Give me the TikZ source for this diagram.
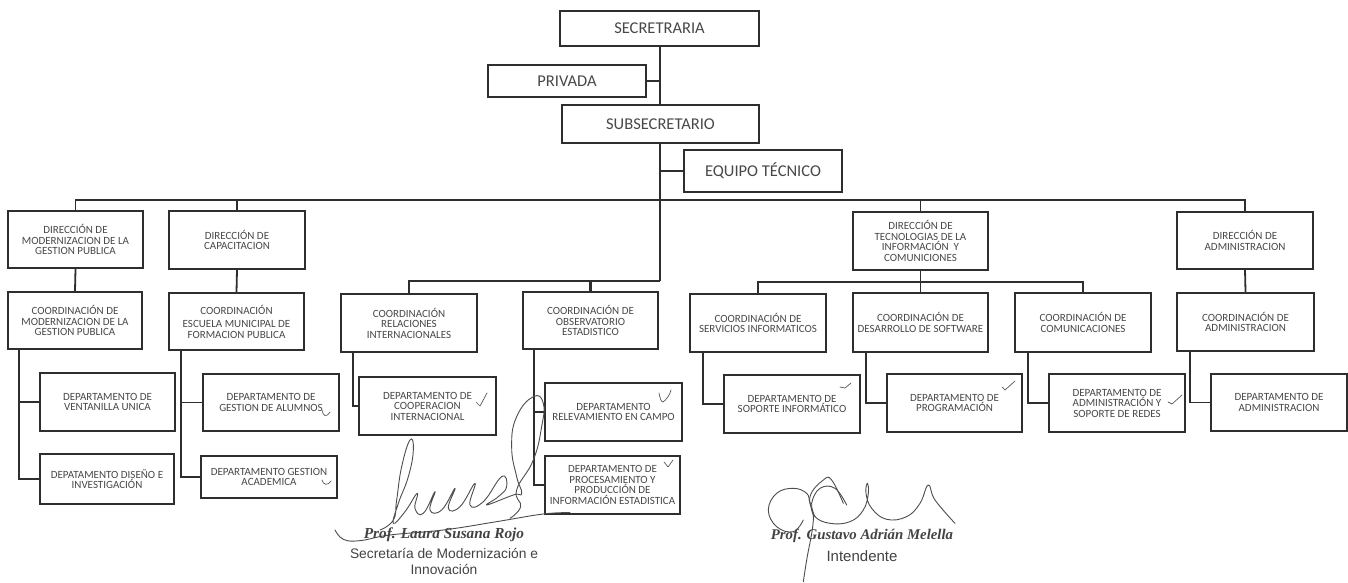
\documentclass[tikz,border=0pt]{standalone}
\usepackage{fontspec}
\setmainfont{Carlito}
\newfontfamily\signserif{Liberation Serif}
\newfontfamily\signsans{Liberation Sans}
\definecolor{ink}{HTML}{2E2E2E}
\definecolor{txt}{HTML}{484848}
\tikzset{
  orgbox/.style={draw=ink,line width=1.8pt,inner sep=0pt,align=center,text=txt,font=\fontsize{11}{10.5}\selectfont},
  topbox/.style={orgbox,font=\fontsize{16.5}{18}\selectfont},
  link/.style={draw=ink,line width=1.8pt},
  tick/.style={draw=ink!80,line width=.7pt,line cap=round,line join=round},
  pen/.style={draw=ink!85,line width=.9pt,line cap=round,line join=round},
  signname/.style={text=ink!90,font=\signserif\bfseries\itshape\fontsize{#1}{16}\selectfont},
  signrole/.style={text=ink!90,font=\signsans\fontsize{#1}{16}\selectfont,align=center}
}
\newcommand{\bx}[7][orgbox]{\node[#1,minimum width=#5-#3,minimum height=#6-#4] (#2) at ({(#3+#5)/2},{(#4+#6)/2}) {#7};}
\begin{document}
\begin{tikzpicture}[x=1pt,y=-1pt]
\useasboundingbox (0,0) rectangle (1348,583);
\fill[white] (0,0) rectangle (1348,583);
% top
\bx[topbox]{sec}{560}{11}{759}{46}{SECRETRARIA}
\bx[topbox]{pri}{488}{65}{646}{97}{PRIVADA}
\bx[topbox]{sub}{562}{105}{759}{143}{SUBSECRETARIO}
\bx[topbox]{eq}{684}{150}{842}{192}{EQUIPO TÉCNICO}
% directions
\bx{d1}{8}{211}{143}{268}{DIRECCIÓN DE\\MODERNIZACION DE LA\\GESTION PUBLICA}
\bx{d2}{169}{211}{305}{269}{DIRECCIÓN DE\\CAPACITACION}
\bx{d3}{853}{212}{988}{270}{DIRECCIÓN DE\\TECNOLOGIAS DE LA\\INFORMACIÓN~~Y\\COMUNICIONES}
\bx{d4}{1177}{212}{1313}{269}{DIRECCIÓN DE\\ADMINISTRACION}
% coordinations
\bx{c1}{8}{292}{142}{349}{COORDINACIÓN DE\\MODERNIZACION DE LA\\GESTION PUBLICA}
\bx{c2}{169}{293}{304}{350}{COORDINACIÓN\\[3pt]ESCUELA MUNICIPAL DE\\FORMACION PUBLICA}
\bx{c3}{341}{294}{477}{352}{COORDINACIÓN\\RELACIONES\\INTERNACIONALES}
\bx{c4}{523}{292}{658}{349}{COORDINACIÓN DE\\OBSERVATORIO\\ESTADISTICO}
\bx{c5}{690}{294}{826}{352}{COORDINACIÓN DE\\SERVICIOS INFORMATICOS}
\bx{c6}{853}{293}{988}{352}{COORDINACIÓN DE\\DESARROLLO DE SOFTWARE}
\bx{c7}{1015}{293}{1151}{352}{COORDINACIÓN DE\\COMUNICACIONES}
\bx{c8}{1177}{293}{1314}{351}{COORDINACIÓN DE\\ADMINISTRACION}
% departments
\bx{e1}{40}{373}{175}{431}{DEPARTAMENTO DE\\VENTANILLA UNICA}
\bx{e2}{40}{454}{174}{504}{DEPATAMENTO DISEÑO E\\INVESTIGACIÓN}
\bx{e3}{203}{374}{339}{431}{DEPARTAMENTO DE\\GESTION DE ALUMNOS}
\bx{e4}{201}{456}{337}{498}{DEPARTAMENTO GESTION\\ACADEMICA}
\bx{e5}{359}{377}{496}{435}{DEPARTAMENTO DE\\COOPERACION\\INTERNACIONAL}
\bx{e6}{545}{383}{682}{441}{DEPARTAMENTO\\RELEVAMIENTO EN CAMPO}
\bx{e7}{545}{456}{680}{514}{DEPARTAMENTO DE\\PROCESAMIENTO Y\\PRODUCCIÓN DE\\INFORMACIÓN ESTADISTICA}
\bx{e8}{724}{375}{860}{433}{DEPARTAMENTO DE\\SOPORTE INFORMÁTICO}
\bx{e9}{887}{374}{1022}{432}{DEPARTAMENTO DE\\PROGRAMACIÓN}
\bx{e10}{1049}{374}{1185}{432}{DEPARTAMENTO DE\\ADMINISTRACIÓN Y\\SOPORTE DE REDES}
\bx{e11}{1211}{374}{1347}{431}{DEPARTAMENTO DE\\ADMINISTRACION}
% junctions
\coordinate (bus) at (660,200);
\coordinate (busA) at (660,281);
\coordinate (busB) at (920,282);
% connectors
\draw[link] (sec.south -| bus) -- (sub.north -| bus);
\draw[link] (pri.east) -- (pri.east -| bus);
\draw[link] (sub.south -| bus) -- (busA);
\draw[link] (eq.west) -- (eq.west -| bus);
\draw[link] (d1.north) |- (bus);
\draw[link] (d2.north) -- (d2.north |- bus);
\draw[link] (d3.north) -- (d3.north |- bus);
\draw[link] (bus) -| (d4.north);
\draw[link] (d1.south) -- (c1.north);
\draw[link] (d2.south) -- (c2.north);
\draw[link] (d4.south) -- (c8.north);
\draw[link] (d3.south) -- (c6.north);
\draw[link] (c3.north) |- (busA);
\draw[link,line width=2.6pt] (c4.north) |- (busA);
\draw[link] (c5.north) |- (busB);
\draw[link] (busB) -| (c7.north);
\draw[link] (c1.south west) ++(12,0) coordinate (s1) |- (e1.west);
\draw[link] (s1) |- (e2.west);
\draw[link] (c2.south west) ++(13,0) coordinate (s2) |- (e3.west);
\draw[link] (s2) |- (e4.west);
\draw[link] (c3.south west) ++(13,0) |- (e5.west);
\draw[link] (c4.south west) ++(12,0) coordinate (s4) |- (e6.west);
\draw[link] (s4) |- (e7.west);
\draw[link] (c5.south west) ++(14,0) |- (e8.west);
\draw[link] (c6.south west) ++(14,0) |- (e9.west);
\draw[link] (c7.south west) ++(14,0) |- (e10.west);
\draw[link] (c8.south west) ++(14,0) |- (e11.west);
% check marks
\draw[tick] (476,402) -- (480,406) -- (487,393);
\draw[tick] (322,410) .. controls (323,416) and (326,418) .. (330,412);
\draw[tick] (322,480) .. controls (323,485) and (328,486) .. (331,481);
\draw[tick] (659,393) .. controls (660,398) and (661,402) .. (663,402) .. controls (666,400) and (670,395) .. (671,390);
\draw[tick] (664,462) -- (668,467) -- (673,460);
\draw[tick] (840,387) -- (845,388) -- (851,383);
\draw[tick] (1002,387) -- (1005,390) -- (1015,381);
\draw[tick] (1168,402) -- (1172,404) -- (1182,395);
% signature 1
\begin{scope}[shift={(330,380)},x=.3333pt,y=-.3333pt]
\draw[pen] plot[smooth,tension=.7] coordinates {(15,450) (40,478) (90,482) (180,465) (340,450) (500,425) (640,402) (720,398)};
\draw[pen] plot[smooth,tension=.8] coordinates {(150,450) (190,420) (200,360) (215,260) (240,180) (250,210) (235,290) (205,370) (190,430) (225,395) (262,340) (255,385) (280,400) (315,335) (300,390) (335,390) (375,325) (355,385) (390,380) (435,310) (420,375) (460,365) (515,290) (530,320) (505,350) (470,375) (550,345) (575,340) (560,290) (545,200) (560,110) (610,50) (640,70) (635,140) (610,240) (560,330) (572,380) (540,415)};
\end{scope}
% signature 2
\begin{scope}[shift={(760,460)},x=.3333pt,y=-.3333pt]
\draw[pen] plot[smooth,tension=.7] coordinates {(130,365) (140,300) (160,180) (150,110) (190,60) (215,60) (250,130)};
\draw[pen] plot[smooth,tension=.7] coordinates {(130,180) (100,215) (50,200) (25,150) (50,100) (100,85) (140,100) (150,130) (165,170) (210,190) (270,185) (310,150) (325,100) (322,70) (318,100) (335,145) (380,178) (440,170) (480,130) (505,75) (525,120) (585,190)};
\draw[pen] plot[smooth,tension=.7] coordinates {(260,135) (225,85) (180,85) (155,130) (165,170)};
\end{scope}
% signature blocks
\node[signname=15.3] (n1) at (444,535) {Prof. Laura Susana Rojo};
\node[signrole=13.8] (r1) at (444,561) {Secretaría de Modernización e\\Innovación};
\node[signname=14.8] (n2) at (862,536) {Prof. Gustavo Adrián Melella};
\node[signrole=15] (r2) at (862,556) {Intendente};
\end{tikzpicture}
\end{document}
